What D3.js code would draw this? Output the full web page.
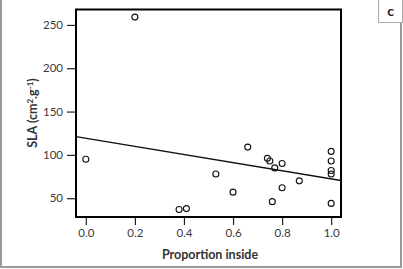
<!DOCTYPE html>
<html lang="en">
<head>
<meta charset="utf-8">
<title>SLA vs proportion inside</title>
<script src="https://d3js.org/d3.v7.min.js"></script>
<style>
  body { margin: 0; background: #fff; }
  text { font-family: Lato, "Open Sans", sans-serif; }
</style>
</head>
<body>
<script>
// data
var propInside = [0.0, 0.2, 0.38, 0.41, 0.53, 0.60, 0.66, 0.74, 0.75, 0.77, 0.76, 0.80, 0.80, 0.87, 1.0, 1.0, 1.0, 1.0, 1.0]
var slaValues  = [95, 259, 37, 38, 78, 57, 109, 96, 93, 85, 46, 90, 62, 70, 104, 93, 82, 78, 44]
var xTicks = [0.0, 0.2, 0.4, 0.6, 0.8, 1.0]
var yTicks = [50, 100, 150, 200, 250]
// fitted line, read from its ends
var fitIntercept = 119.2
var fitSlope = -46.9

var w = 403
var h = 269

var svg = d3.select("body").append("svg")
  .attr("width", w)
  .attr("height", h)

// outer frame (no top edge)
svg.append("path")
  .attr("d", "M1,0 V267 H401 V0")
  .attr("fill", "none")
  .attr("stroke", "#9a9a9a")
  .attr("stroke-width", 2)

// panel letter
svg.append("rect")
  .attr("x", 378.5).attr("y", -1)
  .attr("width", 24).attr("height", 23.5)
  .attr("fill", "#fff")
  .attr("stroke", "#aaa")
svg.append("text")
  .attr("x", 390.5).attr("y", 16)
  .attr("text-anchor", "middle")
  .style("font-size", "14px")
  .style("font-weight", "bold")
  .attr("fill", "#222")
  .text("c")

// scales
var x = d3.scaleLinear().domain([-0.04, 1.04]).range([76, 341])
var y = d3.scaleLinear().domain([28.3, 267.8]).range([217, 9.5])

// axes
svg.append("g")
  .attr("transform", "translate(0,217)")
  .call(d3.axisBottom(x).tickValues(xTicks).tickFormat(d3.format(".1f")).tickSize(8).tickPadding(4))
svg.append("g")
  .attr("transform", "translate(76,0)")
  .call(d3.axisLeft(y).tickValues(yTicks).tickSize(9).tickPadding(4))

svg.selectAll(".domain").remove()
svg.selectAll(".tick line").attr("stroke", "#222").attr("stroke-width", 1.2)
svg.selectAll(".tick text")
  .attr("fill", "#3a3a3a")
  .style("font-size", "11.5px")
  .style("font-family", "Lato, 'Open Sans', sans-serif")

// plot box
svg.append("rect")
  .attr("x", x.range()[0]).attr("y", y.range()[1])
  .attr("width", x.range()[1] - x.range()[0])
  .attr("height", y.range()[0] - y.range()[1])
  .attr("fill", "none")
  .attr("stroke", "#000")
  .attr("stroke-width", 2)

// regression line across the box
var xl = x.domain()
svg.append("line")
  .attr("x1", x(xl[0])).attr("y1", y(fitIntercept + fitSlope * xl[0]))
  .attr("x2", x(xl[1])).attr("y2", y(fitIntercept + fitSlope * xl[1]))
  .attr("stroke", "#111")
  .attr("stroke-width", 1.4)

// points
svg.selectAll("circle.pt")
  .data(propInside)
  .enter()
  .append("circle")
  .attr("class", "pt")
  .attr("cx", function(d) { return x(d) })
  .attr("cy", function(d, i) { return y(slaValues[i]) })
  .attr("r", 3)
  .attr("fill", "none")
  .attr("stroke", "#111")
  .attr("stroke-width", 1.1)

// axis titles
svg.append("text")
  .attr("x", 210).attr("y", 259)
  .attr("text-anchor", "middle")
  .style("font-size", "12.5px")
  .style("font-weight", "bold")
  .attr("fill", "#333")
  .text("Proportion inside")

var yl = svg.append("text")
  .attr("transform", "translate(37,113) rotate(-90)")
  .attr("text-anchor", "middle")
  .style("font-size", "12.5px")
  .style("font-weight", "bold")
  .attr("fill", "#333")
yl.append("tspan").text("SLA (cm")
yl.append("tspan").attr("dy", -4).style("font-size", "8px").text("2")
yl.append("tspan").attr("dy", 4).text(".g")
yl.append("tspan").attr("dy", -4).style("font-size", "8px").text("-1")
yl.append("tspan").attr("dy", 4).text(")")
</script>
</body>
</html>
